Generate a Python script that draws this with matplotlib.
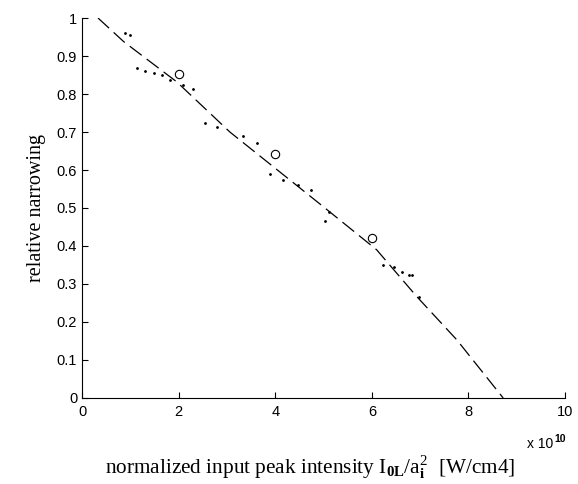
import matplotlib.pyplot as plt
import numpy as np

plt.rcParams["mathtext.fontset"] = "custom"
plt.rcParams["mathtext.rm"] = "Liberation Serif"
plt.rcParams["mathtext.it"] = "Liberation Serif"
plt.rcParams["mathtext.bf"] = "Liberation Serif:bold"

# dashed fit curve (x in units of 1e10 W/cm4)
fit_x = [0.33, 0.86, 1.96, 3.06, 5.0, 6.1, 6.93, 7.76, 8.72]
fit_y = [1.0, 0.938, 0.832, 0.70, 0.503, 0.39, 0.267, 0.153, 0.0]

# open circles
circ_x = [2.0, 4.0, 6.0]
circ_y = [0.852, 0.642, 0.422]

# scattered dots
dot_x = [0.89, 0.99, 1.13, 1.30, 1.48, 1.65, 1.82, 2.10, 2.30, 2.55, 2.80,
         3.34, 3.62, 3.89, 4.17, 4.48, 4.75, 5.03, 5.11, 6.24, 6.45, 6.62,
         6.76, 6.84, 6.97]
dot_y = [0.96, 0.955, 0.868, 0.86, 0.854, 0.85, 0.837, 0.824, 0.812, 0.725,
         0.712, 0.689, 0.672, 0.589, 0.574, 0.56, 0.547, 0.467, 0.49, 0.35,
         0.346, 0.332, 0.324, 0.324, 0.267]

fig = plt.figure(figsize=(5.78, 4.84), dpi=100)
ax = fig.add_axes([0.142, 0.1777, 0.8355, 0.7851])

ax.plot(fit_x, fit_y, color="black", lw=0.9, dashes=(12, 5))
ax.plot(circ_x, circ_y, "o", mfc="white", mec="black", ms=6, mew=0.8)
ax.plot(dot_x, dot_y, ".", color="black", ms=2)

ax.set_xlim(0, 10)
ax.set_ylim(0, 1)
ax.set_xticks(range(0, 11, 2))
yt = np.round(np.arange(0, 1.01, 0.1), 1)
ax.set_yticks(yt)
ax.set_yticklabels(["0"] + [f"{v:.1f}" for v in yt[1:-1]] + ["1"])
for s in ("top", "right"):
    ax.spines[s].set_visible(False)
ax.tick_params(direction="in", length=4, labelsize=10.5)
ax.tick_params(axis="x", pad=5)
for lab in ax.get_xticklabels() + ax.get_yticklabels():
    lab.set_family("Liberation Sans")

# axis multiplier, drawn as plain text + superscript
ax.text(0.975, -0.122, "x 10", transform=ax.transAxes, ha="right",
        va="center", fontsize=10, family="Liberation Sans")
ax.text(0.977, -0.108, "10", transform=ax.transAxes, ha="left",
        va="center", fontsize=7.5, fontweight="bold", family="Liberation Sans")

fig.text(0.536, 0.021,
         r"normalized input peak intensity I$_{\mathbf{0L}}$/a$_{\mathbf{i}}^{\mathrm{2}}$  [W/cm4]",
         family="Liberation Serif", fontsize=15.3, ha="center", va="baseline")
ax.set_ylabel("relative narrowing", family="Liberation Serif", fontsize=14.5,
              labelpad=8)

fig.savefig("out.png", dpi=100)
